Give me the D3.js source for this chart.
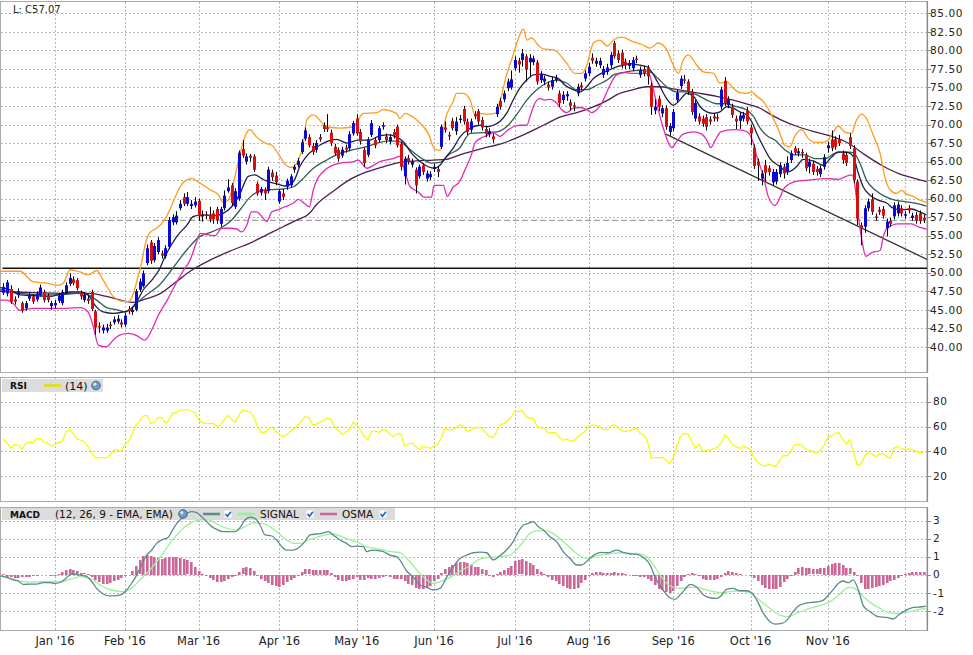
<!DOCTYPE html>
<html>
<head>
<meta charset="utf-8">
<script src="https://cdnjs.cloudflare.com/ajax/libs/d3/7.8.5/d3.min.js"></script>
<style>
  body { margin: 0; background: #fff; }
  text { font-family: "DejaVu Sans", Verdana, sans-serif; }
</style>
</head>
<body>
<svg id="chart" width="973" height="655"></svg>
<script>
// ---- data ----
const monthLabels = ["Jan '16", "Feb '16", "Mar '16", "Apr '16", "May '16", "Jun '16",
                     "Jul '16", "Aug '16", "Sep '16", "Oct '16", "Nov '16", "Dec '16"];
// trading sessions shown per month, first entry = the Dec 2015 sessions at the left
const monthSessions = [14, 19, 20, 22, 21, 21, 22, 20, 23, 21, 21, 21, 6];

const priceTicks = d3.range(40, 85.01, 2.5);
const rsiTicks = [20, 40, 60, 80];
const macdTicks = [-2, -1, 0, 1, 2, 3];

const lastClose = 57.07;
const supportLevel = 50.6;
const trendLine = [[180.0, 68.7], [250.95, 51.8]];

const dataOpen = [
  47.3,47.2,47.8,46.4,47.0,45.9,45.2,46.5,46.8,46.4,
  47.0,47.4,46.9,45.5,45.6,46.2,45.9,47.4,48.5,49.1,
  49.0,47.3,46.3,46.5,47.4,44.8,42.8,42.2,42.2,43.0,
  43.3,43.4,43.3,43.0,45.1,44.7,45.0,47.7,48.2,51.3,
  54.1,51.7,52.8,52.6,52.2,53.5,56.8,56.8,58.7,60.2,
  59.3,59.0,59.1,59.7,57.6,57.9,57.9,58.0,58.6,56.6,
  58.7,61.0,61.8,58.9,60.0,66.7,65.0,65.8,65.7,62.0,
  60.8,61.2,61.0,63.5,63.1,59.6,60.7,61.6,61.8,63.9,
  64.5,66.3,68.1,68.3,67.1,66.6,68.3,69.9,69.6,68.9,
  67.0,66.6,65.8,66.9,66.8,68.8,70.8,69.0,66.6,65.9,
  68.6,67.9,67.9,69.7,68.4,67.7,69.0,69.7,67.4,63.0,
  65.5,64.6,63.9,63.0,64.5,62.7,62.9,64.0,64.0,67.0,
  69.6,68.6,70.5,69.1,70.6,72.1,70.4,69.3,71.4,71.8,
  70.6,69.4,68.7,68.4,71.4,73.2,73.4,74.9,75.0,77.6,
  78.6,78.7,79.2,78.4,78.4,78.4,76.0,75.8,75.4,75.1,
  76.0,74.2,73.3,73.8,73.0,72.6,74.2,75.3,76.2,76.9,
  79.0,78.2,78.0,76.7,77.1,78.0,81.0,79.6,79.7,78.5,
  77.9,77.6,78.9,76.7,77.5,77.7,75.3,71.9,73.5,71.5,
  72.2,69.0,69.5,73.3,75.2,76.1,75.8,74.4,70.8,71.1,
  70.8,71.0,70.7,71.1,71.0,72.4,75.9,72.6,72.4,70.8,
  70.5,70.8,71.9,69.6,66.9,65.0,62.7,64.5,64.1,62.2,
  62.3,63.3,64.3,63.6,65.2,66.8,66.1,66.3,65.9,64.3,
  64.7,64.0,63.3,64.3,66.8,68.0,68.0,68.0,66.1,65.9,
  68.3,66.8,62.3,56.4,56.2,58.7,59.9,57.6,58.5,58.6,
  56.0,57.0,57.6,58.0,58.7,57.7,58.7,57.4,57.8,58.0,57.4
];
const dataHigh = [
  48.6,49.0,48.3,46.8,47.9,46.1,46.2,47.4,47.1,47.5,
  48.4,47.7,47.2,46.2,46.3,47.2,47.7,48.7,49.9,49.5,
  49.3,47.6,47.4,46.9,47.7,45.0,43.3,43.0,43.1,43.4,
  44.1,44.3,43.7,44.6,45.5,45.4,47.8,49.2,50.3,53.8,
  54.4,54.0,54.8,53.0,53.7,57.5,57.9,58.3,59.8,60.7,
  60.9,59.8,60.2,60.0,58.4,58.3,58.9,58.4,58.9,58.9,
  61.1,62.6,62.1,61.4,66.5,67.9,66.1,66.0,66.0,62.3,
  61.6,61.5,64.3,63.9,63.6,61.3,61.3,62.7,63.3,64.6,
  65.5,68.0,69.6,68.7,67.5,67.9,68.7,70.3,71.4,69.3,
  67.4,66.9,67.0,67.3,69.1,70.5,71.4,69.4,66.9,68.3,
  70.6,68.3,69.8,70.3,68.8,68.7,69.4,70.0,67.7,65.7,
  65.9,65.4,64.2,64.6,64.8,63.8,63.7,64.7,64.4,70.0,
  70.4,69.0,70.9,71.0,71.3,72.5,70.8,70.8,71.8,72.1,
  71.0,69.8,69.5,68.8,72.8,73.6,74.6,76.2,77.3,79.2,
  79.0,80.2,79.5,79.5,79.3,78.7,77.2,76.6,75.8,76.4,
  76.7,74.6,74.5,74.5,73.4,73.0,75.5,75.7,77.3,78.3,
  79.6,79.0,79.0,77.9,78.2,79.8,81.3,80.0,80.1,78.9,
  78.7,79.1,79.3,77.8,77.9,78.0,75.7,73.4,73.9,72.6,
  72.6,70.2,72.1,74.7,76.6,76.7,76.1,74.8,73.3,71.5,
  71.2,71.4,71.1,71.5,71.4,75.1,76.4,73.8,72.8,71.2,
  71.6,71.7,72.4,70.0,67.3,65.4,63.8,65.2,64.5,64.0,
  64.0,64.9,64.7,65.7,66.5,67.1,66.8,66.7,66.2,65.4,
  65.1,64.4,64.5,66.0,67.7,69.2,68.4,68.6,66.5,66.3,
  68.8,67.2,62.6,56.8,59.1,60.0,60.7,58.0,58.9,59.0,
  57.3,57.4,59.5,59.6,59.1,58.3,59.1,58.1,58.2,58.4,57.8
];
const dataLow = [
  47.0,46.8,45.8,45.7,46.6,44.6,44.9,46.2,45.8,46.1,
  46.8,46.0,46.0,45.0,45.2,45.9,45.6,47.1,48.2,48.3,
  47.6,46.4,46.0,45.8,44.8,41.6,41.9,41.8,41.9,42.4,
  43.0,43.1,42.6,42.7,44.4,44.3,44.8,47.4,48.0,51.0,
  51.2,51.4,52.5,51.9,51.9,53.2,56.4,56.5,58.4,59.0,
  59.0,58.6,58.8,57.0,56.9,57.2,56.8,56.6,56.6,56.2,
  58.4,60.8,59.0,58.6,59.7,65.5,64.6,65.0,63.6,60.4,
  60.4,59.8,60.7,62.4,61.8,59.3,59.8,61.2,61.5,63.5,
  64.2,66.0,67.8,66.9,65.9,66.2,67.7,69.0,69.0,67.1,
  65.8,65.0,65.5,66.2,66.5,68.5,68.5,67.3,64.3,65.6,
  68.3,66.8,67.6,69.3,67.5,67.3,68.1,66.9,63.8,61.9,
  64.6,64.2,60.7,62.7,63.2,62.3,62.5,63.6,62.9,66.7,
  68.9,67.9,69.2,68.6,70.2,70.0,68.6,68.9,70.7,70.0,
  69.2,68.3,68.3,67.5,71.0,72.0,73.0,74.5,74.7,77.3,
  77.0,77.8,75.8,76.4,78.0,75.4,75.6,75.3,74.6,74.7,
  75.7,72.4,72.8,73.2,71.9,71.8,73.8,74.6,75.8,76.5,
  78.2,77.8,77.6,76.3,76.7,77.6,78.9,78.3,77.6,77.5,
  77.5,77.2,78.3,76.3,76.5,75.4,71.3,71.4,71.8,71.0,
  69.3,68.5,69.1,72.9,74.8,75.5,74.0,71.3,70.4,70.0,
  69.7,69.2,70.0,70.4,70.4,72.0,72.5,72.2,70.9,69.4,
  69.4,70.4,70.0,67.2,64.0,62.4,61.8,62.3,63.1,61.8,
  61.9,62.9,62.7,63.2,64.8,65.9,65.7,65.5,63.7,63.4,
  63.2,63.1,62.9,63.9,66.2,66.4,66.6,67.1,64.7,64.4,
  66.7,62.1,56.4,53.7,55.4,58.3,57.8,57.0,57.8,57.3,
  54.9,56.2,57.2,57.6,57.6,57.3,58.0,57.0,56.6,56.6,56.7
];
const dataClose = [
  48.1,48.7,46.1,46.1,47.5,44.9,45.9,47.0,46.1,47.2,
  48.0,46.3,46.3,45.9,45.9,46.9,47.4,48.3,49.3,48.6,
  47.9,46.8,47.0,46.2,45.1,42.6,42.6,42.6,42.6,42.8,
  43.7,43.8,43.0,44.2,44.8,45.0,47.5,48.8,49.9,53.3,
  51.6,53.6,54.4,52.3,53.3,57.1,57.5,57.7,59.3,59.3,
  60.2,59.3,59.6,57.6,57.8,57.7,57.2,57.2,57.1,58.6,
  60.4,61.5,59.4,61.0,66.2,65.8,65.7,65.5,63.9,60.7,
  61.3,60.7,63.9,62.9,62.2,61.0,60.2,62.4,63.0,64.3,
  65.1,67.6,69.2,67.2,66.3,67.5,68.0,69.4,69.4,67.5,
  66.1,65.4,66.6,66.6,68.7,70.2,68.8,67.7,64.8,68.0,
  70.2,67.2,69.5,69.9,67.9,68.3,68.5,67.2,64.3,65.4,
  65.0,65.0,61.8,64.3,63.6,63.4,63.3,64.3,63.6,69.7,
  69.3,68.4,69.5,70.4,70.8,70.4,69.0,70.4,71.1,70.4,
  69.6,68.7,69.1,68.0,72.4,72.4,74.2,75.8,76.1,78.7,
  78.1,79.6,77.4,79.0,78.9,75.8,76.8,76.2,75.0,76.0,
  76.3,72.9,74.0,74.1,72.5,72.4,75.1,75.0,76.9,77.8,
  78.6,78.6,78.6,77.5,77.7,79.4,79.2,78.7,78.0,78.0,
  78.3,78.7,78.7,77.4,76.9,76.5,72.4,72.4,72.4,72.2,
  69.7,69.8,71.7,74.3,76.2,75.9,74.4,71.7,72.9,70.4,
  70.1,69.7,70.4,70.8,70.8,74.7,72.9,73.4,71.3,70.4,
  71.2,71.3,70.4,68.8,64.4,64.5,63.4,63.5,63.6,63.6,
  63.6,64.5,63.4,64.8,66.1,66.2,66.4,66.1,64.1,65.0,
  63.6,63.6,64.1,65.6,67.2,66.8,67.0,67.5,65.2,64.8,
  67.1,62.5,57.3,56.0,58.7,59.6,58.2,57.4,58.2,57.7,
  56.9,56.6,59.1,59.2,58.0,57.9,58.4,57.7,57.0,57.0,57.07
];

// overlay lines on the price panel: [session index, value]
const bandUpper = [[-0.9,50.2],[4.5,50.2],[8,48.8],[11.7,48.6],[14.9,48.3],[16.3,48.6],[18.1,50.4],[20.8,50.1],[23,49.7],[25.3,50.3],[27.1,49.0],[29.8,46.8],[31.7,46.2],[33.9,46.1],[35.3,47.2],[36.2,48.8],[37.5,51.3],[38.6,54.0],[39.8,55.4],[41.6,56.0],[43.4,56.9],[45.2,58.5],[47.1,60.7],[48.9,62.2],[51.1,62.7],[53.4,62.1],[56.1,61.2],[58.4,60.5],[59.7,59.5],[61.1,59.8],[62.9,63.0],[64.3,66.1],[66.1,68.9],[67,69.3],[68.8,68.3],[71.1,67.5],[72.9,67.2],[75.1,65.7],[77,64.4],[78.3,64.2],[80.1,65.2],[81.5,67.5],[82.4,70.6],[84.2,71.3],[87.8,69.7],[91.4,69.5],[95.1,69.7],[97.8,71.5],[101.4,71.6],[103.2,72.0],[106.8,71.5],[107.7,70.8],[109.1,71.5],[112.3,70.6],[115.4,68.8],[117.3,66.6],[118.6,66.5],[120,70.6],[122.2,73.1],[123.1,74.2],[124.9,74.2],[126.8,73.3],[128.1,71.3],[129.5,71.5],[131.3,71.4],[133.6,71.5],[134.9,73.1],[136.7,76.7],[138.5,79.4],[139.9,81.6],[141.3,82.9],[142.2,81.4],[143.5,81.7],[145.3,80.7],[146.7,80.2],[149.4,80.1],[151.2,79.4],[153,78.3],[155.3,76.9],[157.1,76.9],[158.5,78.0],[160.3,81.0],[162.1,81.4],[164,80.6],[166,81.5],[168,81.8],[171,81.2],[173.5,80.8],[175.7,80.3],[177.9,81.0],[180.2,80.1],[182,78.0],[183.4,76.9],[184.7,78.7],[186.1,79.4],[188.4,78.0],[190.2,77.1],[192.9,76.9],[194.7,75.6],[196.5,75.8],[198.3,74.9],[200.1,74.3],[201.9,74.2],[203.3,74.4],[204.7,73.8],[206.5,73.1],[208.7,71.3],[211,68.8],[212.3,67.2],[213.7,67.0],[215,68.4],[216.9,69.3],[218.7,68.1],[220.5,67.6],[222.8,67.6],[224.1,67.9],[225.5,69.0],[226.8,69.8],[228.6,69.0],[230.4,68.8],[231.8,70.6],[233.2,71.4],[234.5,70.8],[236.3,68.6],[238.2,66.1],[239.5,62.9],[240.9,61.2],[242.7,60.7],[244,61.1],[245.4,60.6],[247.2,60.3],[249,59.8],[250.8,59.5]];
const bandLower = [[-0.9,46.3],[0.9,46.3],[2.7,45.8],[4.5,44.9],[8.1,45.2],[12.6,45.2],[17.2,45.2],[20.8,45.3],[23,44.7],[24.4,42.7],[25.8,40.2],[28,40.0],[29.8,40.9],[31.7,41.6],[33.9,41.8],[36.2,41.5],[38.4,40.9],[40.3,42.3],[42.1,44.3],[44.5,46.3],[46.5,48.2],[48.5,50.0],[50.7,51.7],[52.5,54.2],[53.4,55.3],[55.7,55.1],[57.5,55.0],[59.3,56.0],[61.6,56.0],[63.4,55.9],[64.7,55.5],[66.1,56.4],[67.4,58.2],[68.8,58.2],[70.2,57.6],[71.5,56.9],[72.9,58.2],[74.7,58.5],[76,58.8],[78.8,59.4],[80.1,59.9],[81.9,59.3],[83.1,58.9],[84.2,61.2],[87.4,63.9],[91.4,64.8],[95.1,65.0],[96.4,65.2],[98.7,64.1],[102.3,65.0],[105.9,65.4],[107.7,65.7],[109.1,63.6],[110.5,61.6],[112.7,60.9],[114.3,60.2],[116.3,60.2],[117,61.8],[119.5,61.8],[120.6,60.3],[122.1,61.5],[123.9,62.3],[125.5,64.0],[127.2,66.0],[128.1,67.5],[129.5,68.1],[131.3,68.5],[133.1,68.9],[134.9,68.4],[136.7,69.1],[138.5,69.7],[140.3,69.9],[142.2,69.9],[143.1,71.1],[144.4,72.9],[145.8,73.5],[147.1,73.3],[148.5,73.4],[150.3,72.9],[151.7,72.0],[153,71.6],[154.8,72.2],[156.7,72.3],[158.5,72.0],[159.8,71.6],[161.2,72.0],[162.5,72.8],[164.5,75.0],[166.6,76.7],[168.9,77.0],[171.2,76.9],[174.3,76.9],[175.5,76.7],[176.6,74.7],[177.9,72.0],[179.3,69.5],[180.7,67.5],[181.6,66.9],[182.9,67.7],[184.7,68.7],[187.5,69.0],[189.7,68.7],[191.1,67.9],[192.2,66.9],[193.4,67.9],[194.9,69.0],[198.3,69.3],[201,69.2],[202.7,68.7],[203.6,67.7],[204.7,65.7],[206.5,63.0],[207.8,60.3],[209.6,59.1],[212.3,61.5],[215.1,62.3],[218.7,62.5],[224.1,62.7],[226.8,62.6],[229.5,63.1],[230.6,63.2],[231.4,61.6],[232.3,57.6],[233.4,54.0],[234.3,52.2],[235.9,52.7],[238.2,53.0],[239.1,54.9],[240.1,56.0],[243.1,56.6],[246.8,56.6],[248.6,56.2],[250.8,55.9]];
const fastAvg = [[-0.9,48.0],[1.8,47.7],[4.5,47.0],[8.1,46.9],[12.6,46.8],[15.4,47.1],[18.1,47.4],[20.8,47.4],[23,47.0],[24.9,45.6],[27.1,44.7],[29.8,44.5],[32.6,44.7],[34.4,45.0],[36.2,46.1],[38,47.7],[40.3,49.0],[42.3,50.4],[43.9,52.2],[47.1,54.9],[49.8,56.4],[51.6,57.6],[54.3,57.8],[57.5,57.7],[59.7,58.0],[62,58.9],[64.3,60.7],[66.5,63.0],[68.3,63.2],[70.2,62.7],[71.9,62.3],[74.2,62.0],[76.5,61.7],[78.8,62.3],[80.6,64.4],[82.5,65.8],[84.2,66.6],[87.8,67.7],[90.5,68.0],[93.3,67.5],[96.4,67.9],[99.6,67.9],[102.3,68.5],[104.6,68.6],[106.8,68.3],[108.6,67.7],[110.9,66.1],[113.2,65.0],[115.4,64.3],[117.3,64.1],[118.6,64.5],[120.4,65.7],[122.2,66.8],[124,68.3],[126.8,69.5],[129.5,69.9],[131.3,69.7],[133.1,69.9],[134.9,70.4],[136.7,71.5],[138.5,73.3],[140.3,74.9],[142.2,76.0],[144,76.7],[146.2,76.8],[148.5,76.5],[150.8,76.2],[152.6,75.3],[154.8,74.7],[156.7,74.4],[158.5,75.1],[160.3,76.2],[162.5,76.9],[164.8,77.4],[167.5,77.9],[170.3,78.2],[173,78.0],[174.8,77.8],[176.1,77.1],[177.9,75.6],[180.2,73.5],[182,72.6],[183.8,73.3],[185.6,74.2],[187.5,73.8],[189.3,72.4],[191.1,71.7],[192.9,71.5],[194.7,71.7],[196.5,72.4],[198.3,72.2],[200.1,71.7],[201.9,71.3],[203.3,70.4],[204.7,68.8],[206.5,67.0],[208.3,65.4],[210.5,64.5],[213.2,63.6],[215.5,64.3],[217.3,65.3],[220,65.1],[222.7,64.5],[225,65.6],[226.8,66.3],[229.5,66.2],[230.9,65.7],[232.3,63.4],[233.6,61.6],[235.4,60.5],[237.7,59.8],[240,59.4],[241.8,58.7],[244,58.5],[246.8,58.6],[249,58.2],[250.8,57.8]];
const midAvg = [[-0.9,47.7],[4.5,47.2],[9.9,47.0],[15.4,47.0],[19.9,47.2],[23,47.0],[25.3,46.3],[28,45.3],[30.8,45.0],[33,44.7],[34.8,45.2],[37.1,46.3],[39.4,47.2],[42.3,48.3],[46,50.6],[50,53.2],[53.4,54.9],[56.1,55.4],[58.8,56.0],[61.6,56.9],[64.3,58.5],[67,60.2],[69.7,61.0],[72.4,61.2],[76,61.3],[78.8,61.6],[81,62.5],[84.2,64.1],[87.8,65.2],[91.4,66.1],[95.1,66.6],[98.7,67.0],[102.3,67.6],[105,67.8],[107.7,67.7],[109.6,67.0],[111.8,66.1],[114.1,65.3],[116.3,64.8],[118.6,64.9],[120.9,65.9],[123.9,66.8],[126.8,68.8],[130.4,68.9],[134,69.0],[136.7,69.7],[139.4,71.3],[142.2,73.3],[144.9,74.7],[147.6,75.6],[150.3,76.0],[153,75.6],[155.7,74.7],[158.5,74.7],[161.2,75.3],[164.6,76.2],[165.7,76.7],[169.3,77.1],[173,77.3],[175.7,77.1],[177.9,76.2],[180.2,75.1],[182.9,74.4],[185.6,74.4],[188.4,74.0],[191.1,73.3],[193.8,72.8],[196.5,72.8],[199.2,72.4],[201.9,72.0],[203.8,71.1],[205.6,69.5],[207.5,68.5],[209.6,67.9],[212.3,66.6],[215.1,65.9],[217.8,65.9],[220.5,65.4],[223.2,65.4],[225.9,66.1],[228.6,66.3],[230.9,66.2],[232.7,64.8],[234.5,62.5],[236.8,61.2],[239.5,60.3],[242.2,59.8],[244.9,59.6],[247.7,59.4],[250.8,59.0]];
const slowAvg = [[-0.9,47.5],[8.1,47.3],[17.2,47.2],[23.5,47.2],[28,46.8],[32.6,46.2],[35.3,46.0],[38.9,46.5],[42.3,47.1],[47,48.8],[51,50.3],[56.1,51.7],[62.5,53.1],[67,54.0],[71.5,55.1],[76,56.2],[79.7,57.1],[83.1,58.0],[85.1,59.2],[89.6,61.0],[94.2,62.6],[98.7,63.6],[103.2,64.3],[107.7,64.9],[112.3,65.1],[116.8,65.2],[120.4,65.3],[124,65.9],[130.4,66.8],[135.8,67.5],[141.3,68.6],[146.7,69.9],[151.2,71.0],[155.8,71.6],[159.4,72.2],[164.6,73.4],[166.6,74.0],[171.2,74.7],[174.8,75.1],[178.4,75.1],[182,74.8],[185.6,74.5],[189.3,74.2],[193.8,73.8],[198.3,73.3],[201.9,72.8],[205.6,72.2],[208.3,71.4],[211.4,70.6],[215.9,69.7],[220.5,69.0],[225,68.4],[229.5,67.5],[234.1,65.9],[238.6,64.5],[243.1,63.4],[247.7,62.7],[250.8,62.3]];

// RSI(14), one value per session
const rsiValues = [
  50.0,46.6,42.5,45.5,45.2,41.7,46.3,47.4,47.1,50.3,
  50.3,47.4,46.8,44.4,45.8,47.1,48.4,55.9,57.3,54.1,
  50.0,49.0,47.6,43.9,38.8,34.5,35.3,34.8,35.0,37.2,
  41.2,41.2,39.9,46.0,47.9,54.3,61.3,64.2,68.5,69.0,
  62.6,63.2,67.4,67.2,62.9,65.3,70.6,71.2,73.3,73.1,
  73.9,72.5,71.4,65.3,63.4,62.6,62.4,62.6,60.2,61.3,
  65.6,69.0,65.8,63.4,69.3,73.1,72.5,71.5,67.7,60.2,
  55.4,55.4,58.3,59.7,56.2,53.8,51.9,53.2,56.7,58.6,
  61.0,64.5,68.0,67.2,61.5,61.8,63.4,65.0,66.6,66.1,
  59.4,56.7,53.8,55.7,57.5,63.4,61.3,57.5,52.2,49.5,
  55.9,56.7,55.1,57.5,57.0,53.5,51.9,54.3,54.0,44.4,
  45.8,46.8,44.1,41.2,44.1,43.3,42.5,44.4,45.8,50.8,
  58.9,57.3,57.5,59.1,61.5,60.2,56.2,57.0,59.1,59.4,
  58.6,55.4,51.9,51.1,55.7,61.8,62.4,64.8,67.7,72.5,
  72.0,72.8,68.5,66.6,66.6,60.0,59.1,58.3,54.9,54.9,
  55.4,51.4,49.0,49.8,48.4,48.4,51.6,53.8,56.2,60.0,
  61.3,60.7,60.0,57.8,57.3,60.5,61.3,59.1,56.7,55.9,
  56.7,57.5,58.9,54.6,53.2,48.4,34.5,35.3,34.8,35.3,
  33.2,30.5,34.8,45.0,51.9,54.3,54.0,48.4,42.5,45.8,
  39.9,40.9,41.2,42.0,43.3,46.6,53.2,50.3,45.8,43.9,
  42.3,44.1,43.1,41.2,34.5,31.3,29.1,28.4,29.7,28.6,
  28.1,33.4,36.9,36.4,40.9,45.2,45.8,45.2,41.5,40.9,
  39.9,38.8,40.9,45.2,51.4,52.5,54.6,55.1,50.0,46.0,
  49.5,38.8,29.1,30.0,36.1,39.6,37.7,35.8,38.0,38.0,
  35.8,34.5,42.8,44.1,42.0,41.5,42.3,41.5,39.9,39.1,39.1
];

// MACD (12, 26, 9) line and signal: [session index, value]
const macdLine = [[-0.9,-0.07],[0.9,-0.15],[2.7,-0.29],[4,-0.35],[5.4,-0.54],[7.2,-0.52],[9,-0.52],[10.8,-0.44],[12.6,-0.44],[14,-0.48],[15.8,-0.39],[17.2,-0.15],[18.5,0.04],[20.8,-0.02],[22.6,-0.11],[24,-0.39],[25.3,-0.76],[27.1,-1.07],[28.9,-1.18],[30.8,-1.16],[32.1,-1.09],[33.5,-0.85],[34.8,-0.48],[36.2,-0.02],[37.5,0.54],[38.9,1.09],[40.3,1.37],[41.6,1.74],[43.4,1.96],[44.8,2.08],[45.7,2.39],[47.1,2.85],[48.4,3.13],[49.8,3.41],[51.1,3.5],[52.5,3.45],[53.8,3.22],[55.2,2.95],[56.6,2.67],[57.9,2.52],[59.7,2.39],[61.5,2.39],[62.9,2.39],[64.3,2.63],[65.6,3.04],[67,3.19],[68.3,3.13],[69.7,2.76],[71.1,2.21],[72.9,2.15],[74.2,1.93],[75.6,1.56],[76.9,1.37],[78.8,1.37],[80.6,1.56],[81.9,1.84],[83.3,2.21],[85.1,2.26],[86.5,2.3],[88.3,2.39],[89.6,2.21],[91.4,1.93],[93.2,1.74],[94.6,1.56],[96,1.59],[97.8,1.56],[98.7,1.28],[100.1,1.37],[101.9,1.34],[103.2,1.28],[105,1.09],[106.8,1.0],[107.7,0.82],[109.5,0.22],[111.4,-0.15],[113.2,-0.57],[115,-0.7],[116.8,-0.85],[118.6,-0.76],[120.5,-0.11],[122.3,0.45],[124.1,0.91],[125.9,1.09],[127.7,1.22],[129.5,1.25],[131.3,1.22],[133.1,0.82],[134.5,1.0],[136.7,1.37],[138.5,1.84],[139.9,2.39],[141.3,2.76],[142.6,2.85],[144,2.95],[145.3,2.67],[146.7,2.48],[148.5,2.11],[150.3,1.84],[152.1,1.28],[153.9,0.91],[155.8,0.54],[157.1,0.54],[158.9,0.82],[160.7,1.13],[162.6,1.24],[164.4,1.22],[166.6,1.37],[168.4,1.24],[170.3,1.15],[172.1,1.13],[173.9,0.96],[175.7,0.54],[177,-0.11],[178.9,-0.76],[180.7,-1.22],[182.5,-1.37],[183.8,-1.13],[185.2,-0.81],[186.6,-0.54],[188.4,-0.7],[190.2,-1.13],[192,-1.28],[193.8,-1.31],[195.2,-1.13],[196.5,-0.81],[198.3,-0.76],[200.1,-0.89],[201.9,-0.89],[203.3,-1.0],[204.7,-1.41],[206.5,-2.15],[208.3,-2.61],[209.7,-2.74],[211.5,-2.7],[212.8,-2.55],[214.2,-2.15],[216,-1.74],[217.8,-1.59],[219.6,-1.54],[221.4,-1.5],[222.8,-1.41],[224.2,-1.13],[225.5,-0.81],[226.9,-0.48],[228.2,-0.35],[229.6,-0.44],[230.9,-0.29],[232.3,-0.85],[233.7,-1.74],[235.5,-2.05],[237.7,-2.33],[240,-2.37],[241.8,-2.46],[243.2,-2.24],[245,-2.0],[247.2,-1.81],[249.5,-1.78],[250.7,-1.74]];
const signalLine = [[-0.9,-0.07],[1.8,-0.2],[4.5,-0.35],[7.2,-0.41],[9.9,-0.39],[12.6,-0.37],[15.4,-0.39],[18.1,-0.26],[20.8,-0.11],[22.6,-0.15],[24.4,-0.29],[26.2,-0.57],[28,-0.76],[30.3,-0.89],[32.6,-0.94],[34.4,-0.81],[36.2,-0.48],[38,-0.11],[39.8,0.26],[41.6,0.72],[43.4,1.19],[45.2,1.74],[47.1,2.21],[49.3,2.67],[51.6,2.95],[53.4,3.04],[55.7,3.04],[57.9,2.82],[60.6,2.58],[63.4,2.48],[65.6,2.67],[67.9,2.89],[70.2,2.85],[72.4,2.67],[74.7,2.3],[76.9,1.93],[78.8,1.74],[80.6,1.74],[82.8,1.93],[85.1,2.08],[87.4,2.21],[89.6,2.26],[91.9,2.11],[94.2,1.93],[96.4,1.78],[98.7,1.56],[100.9,1.46],[103.2,1.37],[105.5,1.28],[107.7,1.22],[110,0.82],[112.3,0.26],[114.5,-0.2],[116.8,-0.48],[118.6,-0.39],[120.9,-0.2],[123.1,0.07],[125.4,0.35],[127.7,0.63],[129.5,0.88],[132.2,0.96],[134.9,1.0],[137.6,1.09],[139.5,1.41],[141.3,1.84],[143.1,2.3],[145.3,2.45],[147.6,2.43],[149.9,2.21],[152.1,1.84],[154.4,1.41],[156.7,1.04],[158.9,0.91],[161.2,1.04],[163.5,1.13],[165.7,1.19],[168,1.22],[170.3,1.19],[172.5,1.19],[174.8,1.0],[176.6,0.54],[178.4,-0.02],[180.2,-0.48],[182,-0.7],[183.8,-0.76],[186.1,-0.7],[188.4,-0.7],[190.6,-0.81],[192.9,-0.94],[195.2,-1.0],[197.4,-0.94],[199.7,-0.89],[201.9,-0.94],[204.2,-1.22],[206.5,-1.59],[208.8,-1.96],[211,-2.24],[213.3,-2.33],[215.5,-2.15],[217.8,-1.96],[220.1,-1.81],[222.3,-1.68],[224.6,-1.5],[226.9,-1.13],[229.1,-0.76],[230.5,-0.7],[231.9,-0.85],[233.7,-1.22],[235.9,-1.59],[238.2,-1.87],[240.5,-2.11],[242.3,-2.15],[244.5,-2.11],[247.2,-2.02],[249.1,-1.92],[250.7,-1.87]];

// OSMA histogram, one bar per session
const osmaValues = [
  0.05,-0.1,-0.12,-0.15,-0.15,-0.12,-0.12,-0.1,-0.08,-0.05,
  -0.02,0.0,0.0,-0.05,-0.04,0.05,0.15,0.25,0.3,0.28,
  0.2,0.12,0.08,0.03,-0.1,-0.25,-0.4,-0.5,-0.5,-0.45,
  -0.35,-0.25,-0.15,-0.08,0.02,0.2,0.5,0.8,1.05,1.1,
  1.05,1.0,0.95,0.9,0.95,1.0,1.0,1.0,0.95,0.9,
  0.8,0.7,0.45,0.2,0.05,-0.05,-0.15,-0.3,-0.4,-0.4,
  -0.35,-0.2,-0.1,-0.05,0.15,0.35,0.45,0.4,0.2,-0.05,
  -0.2,-0.35,-0.45,-0.55,-0.6,-0.65,-0.55,-0.4,-0.25,-0.15,
  -0.05,0.15,0.3,0.3,0.25,0.25,0.25,0.28,0.25,0.1,
  -0.1,-0.3,-0.35,-0.35,-0.3,-0.2,-0.1,-0.3,-0.25,-0.15,
  -0.2,-0.2,-0.15,-0.1,-0.05,-0.1,-0.2,-0.2,-0.2,-0.35,
  -0.5,-0.55,-0.7,-0.8,-0.75,-0.7,-0.6,-0.35,-0.2,0.1,
  0.3,0.45,0.55,0.65,0.7,0.7,0.65,0.55,0.45,0.45,
  0.3,0.25,-0.05,-0.1,0.05,0.15,0.25,0.4,0.5,0.75,
  0.8,0.85,0.75,0.65,0.55,0.3,0.15,0.05,-0.1,-0.25,
  -0.35,-0.5,-0.6,-0.7,-0.75,-0.8,-0.7,-0.45,-0.25,-0.05,
  0.1,0.15,0.15,0.1,0.1,0.12,0.15,0.12,0.1,0.05,
  0.0,-0.05,-0.05,-0.1,-0.1,-0.2,-0.35,-0.55,-0.75,-0.85,
  -0.95,-1.0,-0.9,-0.6,-0.35,-0.1,0.05,0.1,0.05,-0.05,
  -0.2,-0.3,-0.3,-0.25,-0.2,-0.1,0.1,0.2,0.15,0.1,
  0.05,0.02,0.0,-0.05,-0.15,-0.35,-0.55,-0.7,-0.8,-0.8,
  -0.75,-0.65,-0.4,-0.2,-0.05,0.15,0.35,0.45,0.4,0.35,
  0.3,0.3,0.35,0.4,0.5,0.6,0.65,0.65,0.55,0.4,
  0.35,0.15,-0.05,-0.45,-0.8,-0.75,-0.7,-0.65,-0.6,-0.55,
  -0.45,-0.35,-0.3,-0.15,-0.05,0.05,0.1,0.15,0.15,0.15,0.15
];

// ---- layout ----
var width = 973;
var plotRight = 927;
var mainTop = 1, mainBottom = 372;
var rsiTop = 377, rsiBottom = 501;
var macdTop = 507, macdBottom = 630;

var svg = d3.select("#chart");

var x = d3.scaleLinear().domain([-0.95, 250.95]).range([0, plotRight]);
var yMain = d3.scaleLinear().domain([36.6, 86.67]).range([mainBottom, mainTop]);
var yRsi = d3.scaleLinear().domain([0, 100]).range([501.2, 376.8]);
var yMacd = d3.scaleLinear().domain([-3.07, 3.76]).range([macdBottom, macdTop]);

// first session of each month
var monthStart = [];
var acc = monthSessions[0];
monthLabels.forEach(function(m, k) {
    monthStart.push(acc);
    acc += monthSessions[k + 1];
});

var defs = svg.append("defs");
[["clipMain", mainTop, mainBottom], ["clipRsi", rsiTop, rsiBottom], ["clipMacd", macdTop, macdBottom]]
    .forEach(function(c) {
        defs.append("clipPath").attr("id", c[0])
            .append("rect").attr("x", 0).attr("y", c[1])
            .attr("width", plotRight).attr("height", c[2] - c[1]);
    });

var gridColor = "#b8b8b8";
var snap = function(v) { return Math.round(v) + 0.5; };

// panel frame, grid and right axis
function drawPanel(top, bottom, yScale, ticks, fmt, labelX) {
    var g = svg.append("g");
    g.append("rect")
        .attr("x", 0.5).attr("y", top + 0.5)
        .attr("width", plotRight - 0.5).attr("height", bottom - top)
        .attr("fill", "#fff").attr("stroke", "#aaa");

    g.selectAll(".hgrid").data(ticks).enter().append("line")
        .attr("x1", 1).attr("x2", plotRight)
        .attr("y1", d => snap(yScale(d))).attr("y2", d => snap(yScale(d)))
        .attr("stroke", gridColor).attr("stroke-dasharray", "2,2");

    g.selectAll(".vgrid").data(monthStart).enter().append("line")
        .attr("x1", d => snap(x(d))).attr("x2", d => snap(x(d)))
        .attr("y1", top + 1).attr("y2", bottom)
        .attr("stroke", gridColor).attr("stroke-dasharray", "2,2");

    g.append("line")
        .attr("x1", plotRight + 0.5).attr("x2", plotRight + 0.5)
        .attr("y1", top).attr("y2", bottom + 1)
        .attr("stroke", "#8c8c8c").attr("stroke-width", 1.2);

    g.selectAll(".tick").data(ticks).enter().append("line")
        .attr("x1", plotRight + 1).attr("x2", plotRight + 4)
        .attr("y1", d => snap(yScale(d))).attr("y2", d => snap(yScale(d)))
        .attr("stroke", "#8c8c8c");

    g.selectAll(".lbl").data(ticks).enter().append("text")
        .attr("x", labelX).attr("y", d => yScale(d))
        .attr("dy", "0.36em")
        .style("font-size", "10.5px")
        .style("letter-spacing", "0.6px")
        .attr("fill", "#222")
        .text(fmt);
    return g;
}

drawPanel(mainTop, mainBottom, yMain, priceTicks, d3.format(".2f"), 930);
drawPanel(rsiTop, rsiBottom, yRsi, rsiTicks, d => String(d), 933);
drawPanel(macdTop, macdBottom, yMacd, macdTicks, d => String(d), 933);

// ---- price panel ----
var main = svg.append("g").attr("clip-path", "url(#clipMain)");

main.append("line")
    .attr("x1", 0).attr("x2", plotRight)
    .attr("y1", yMain(lastClose)).attr("y2", yMain(lastClose))
    .attr("stroke", "#8a8a8a").attr("stroke-dasharray", "6,3");

main.append("line")
    .attr("x1", x(0) - 1).attr("x2", plotRight)
    .attr("y1", yMain(supportLevel)).attr("y2", yMain(supportLevel))
    .attr("stroke", "#111").attr("stroke-width", 1.6);

main.append("line")
    .attr("x1", x(trendLine[0][0])).attr("y1", yMain(trendLine[0][1]))
    .attr("x2", x(trendLine[1][0])).attr("y2", yMain(trendLine[1][1]))
    .attr("stroke", "#333").attr("stroke-width", 1.3);

var priceLine = d3.line()
    .x(d => x(d[0]))
    .y(d => yMain(d[1]))
    .curve(d3.curveMonotoneX);

[[slowAvg, "#4e1f4e"], [midAvg, "#2e5e55"], [fastAvg, "#1e1e4c"],
 [bandUpper, "#ff9a1e"], [bandLower, "#e22ab4"]].forEach(function(s) {
    main.append("path")
        .attr("d", priceLine(s[0]))
        .attr("fill", "none")
        .attr("stroke", s[1])
        .attr("stroke-width", 1.3);
});

var sessions = d3.range(dataClose.length);

main.selectAll(".wick").data(sessions).enter().append("line")
    .attr("x1", i => Math.round(x(i)) + 0.5)
    .attr("x2", i => Math.round(x(i)) + 0.5)
    .attr("y1", i => yMain(dataHigh[i]))
    .attr("y2", i => yMain(dataLow[i]))
    .attr("stroke", "#000");

main.selectAll(".body").data(sessions).enter().append("rect")
    .attr("x", i => Math.round(x(i)) - 1)
    .attr("width", 3)
    .attr("y", i => yMain(Math.max(dataOpen[i], dataClose[i])))
    .attr("height", i => Math.max(1, Math.abs(yMain(dataOpen[i]) - yMain(dataClose[i]))))
    .attr("fill", i => dataClose[i] >= dataOpen[i] ? "#0a0ad2" : "#d90f0f");

svg.append("text")
    .attr("x", 13).attr("y", 13)
    .style("font-size", "10px")
    .attr("fill", "#222")
    .text("L: C" + lastClose.toFixed(2));

// ---- RSI panel ----
svg.append("rect")
    .attr("x", 2).attr("y", 379)
    .attr("width", 101).attr("height", 13)
    .attr("fill", "#dcdcdc");

svg.append("g").attr("clip-path", "url(#clipRsi)")
    .append("path")
    .attr("d", d3.line().x((d, i) => x(i)).y(d => yRsi(d))(rsiValues))
    .attr("fill", "none")
    .attr("stroke", "#f7f700")
    .attr("stroke-width", 1.2);

// ---- MACD panel ----
svg.append("rect")
    .attr("x", 2).attr("y", 508)
    .attr("width", 393).attr("height", 12)
    .attr("fill", "#dcdcdc");

var macdG = svg.append("g").attr("clip-path", "url(#clipMacd)");

macdG.selectAll(".osma").data(sessions).enter().append("rect")
    .attr("x", i => Math.round(x(i)) - 1)
    .attr("width", 2.6)
    .attr("y", i => Math.round(yMacd(Math.max(0, osmaValues[i]))))
    .attr("height", i => Math.max(0, Math.round(Math.abs(yMacd(osmaValues[i]) - yMacd(0)))))
    .attr("fill", "#cc6699");

var macdPath = d3.line()
    .x(d => x(d[0]))
    .y(d => yMacd(d[1]))
    .curve(d3.curveMonotoneX);

macdG.append("path").attr("d", macdPath(signalLine))
    .attr("fill", "none").attr("stroke", "#9af09a").attr("stroke-width", 1.3);
macdG.append("path").attr("d", macdPath(macdLine))
    .attr("fill", "none").attr("stroke", "#5b8c8c").attr("stroke-width", 1.3);

// ---- panel headers ----
function infoIcon(cx, cy) {
    svg.append("circle").attr("cx", cx).attr("cy", cy).attr("r", 4.3)
        .attr("fill", "#6f9cc4").attr("stroke", "#2f4f6f").attr("stroke-width", 0.8);
    svg.append("circle").attr("cx", cx - 1.2).attr("cy", cy - 1.3).attr("r", 1.6)
        .attr("fill", "#d8e8f5");
}
function checkIcon(cx, cy) {
    svg.append("rect").attr("x", cx - 3.5).attr("y", cy - 3.5)
        .attr("width", 7).attr("height", 7).attr("fill", "#fff");
    svg.append("path")
        .attr("d", "M" + (cx - 2.5) + "," + cy + " l2,2.2 l3.4,-4.4")
        .attr("fill", "none").attr("stroke", "#1d5fc4").attr("stroke-width", 1.6);
}

svg.append("text").attr("x", 10).attr("y", 389)
    .style("font-size", "9px").style("font-weight", "bold").attr("fill", "#111")
    .text("RSI");
svg.append("line").attr("x1", 44).attr("x2", 61).attr("y1", 385.5).attr("y2", 385.5)
    .attr("stroke", "#e0e000").attr("stroke-width", 2.5);
svg.append("text").attr("x", 65).attr("y", 389.5)
    .style("font-size", "11px").attr("fill", "#111").text("(14)");
infoIcon(96, 385.5);

svg.append("text").attr("x", 10).attr("y", 517.5)
    .style("font-size", "9px").style("font-weight", "bold").attr("fill", "#111")
    .text("MACD");
svg.append("text").attr("x", 55).attr("y", 518)
    .style("font-size", "10.5px").attr("fill", "#111")
    .text("(12, 26, 9 - EMA, EMA)");
infoIcon(183, 514);

var macdLegend = [
    { x: 203, color: "#5b8c8c", label: "", check: 228 },
    { x: 238, color: "#9af09a", label: "SIGNAL", check: 310 },
    { x: 320, color: "#cc6699", label: "OSMA", check: 383 }
];
macdLegend.forEach(function(d) {
    svg.append("line").attr("x1", d.x).attr("x2", d.x + 17)
        .attr("y1", 514).attr("y2", 514)
        .attr("stroke", d.color).attr("stroke-width", 2.5);
    if (d.label) {
        svg.append("text").attr("x", d.x + 22).attr("y", 518)
            .style("font-size", "10.5px").attr("fill", "#111").text(d.label);
    }
    checkIcon(d.check, 514);
});

// ---- time axis ----
svg.selectAll(".month").data(monthLabels.slice(0, 11)).enter().append("text")
    .attr("x", (d, k) => x(monthStart[k]))
    .attr("y", 645)
    .attr("text-anchor", "middle")
    .style("font-size", "11.5px")
    .attr("fill", "#222")
    .text(d => d);
</script>
</body>
</html>
